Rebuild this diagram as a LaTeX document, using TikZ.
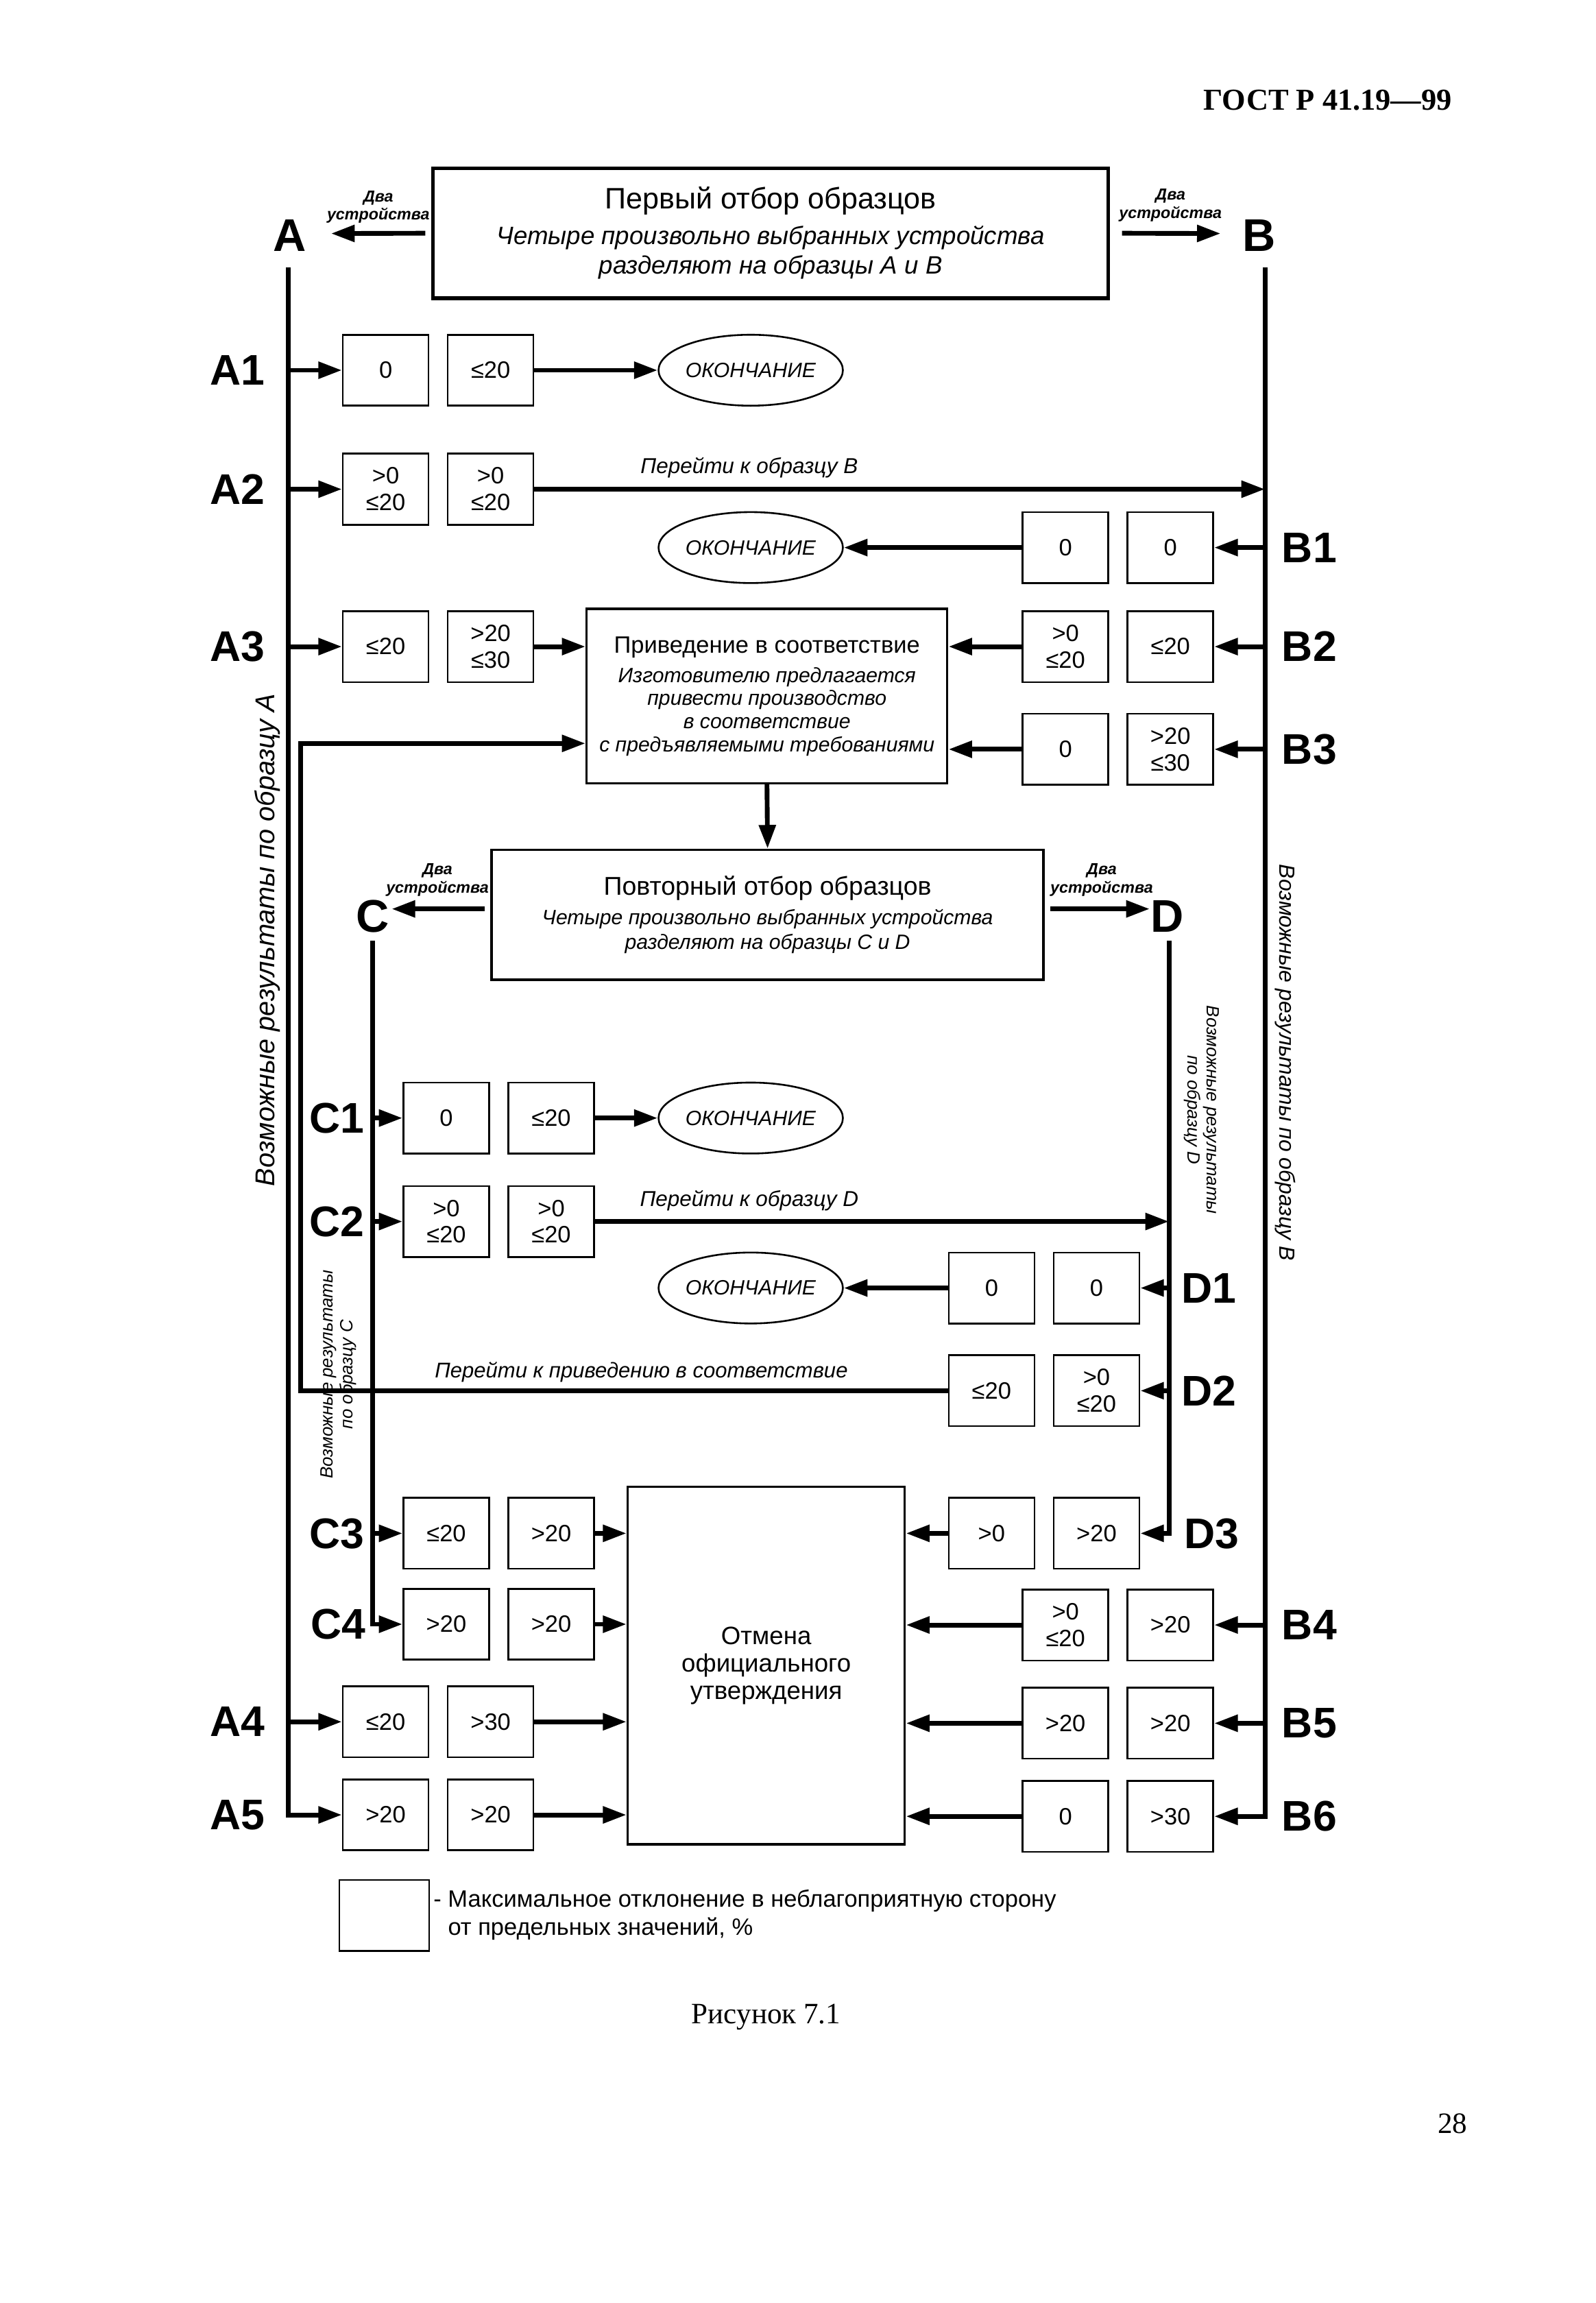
\documentclass[tikz,border=0pt]{standalone}
\usepackage{fontspec}
\setmainfont{Liberation Sans}
\newfontfamily\gostserif{Liberation Serif}
\usetikzlibrary{arrows.meta,shapes.geometric}

\tikzset{
  val/.style={draw, line width=0.6pt, minimum width=29pt, minimum height=24pt, inner sep=0pt, align=center, font=\fontsize{8}{9}\selectfont},
  finish/.style={draw, ellipse, line width=0.6pt, minimum width=54pt, minimum height=24pt, inner sep=0pt, font=\fontsize{7}{8}\selectfont\itshape},
  stagebox/.style={draw, line width=0.8pt, inner sep=0pt, align=center},
  rowlabel/.style={inner sep=0pt, font=\fontsize{14.5}{15}\selectfont\bfseries},
  twodev/.style={inner sep=0pt, align=center, font=\fontsize{5.4}{6.2}\selectfont\bfseries\itshape},
  goto/.style={inner sep=0pt, font=\fontsize{7.3}{8}\selectfont\itshape},
  result/.style={inner sep=0pt, align=center, font=\fontsize{6}{6.6}\selectfont\itshape},
  rail/.style={line width=1.6pt},
  flow/.style={line width=1.6pt, -{Triangle[length=8pt,width=5.5pt]}},
}

\begin{document}
\begin{tikzpicture}[x=0.5pt,y=-0.5pt]
  \useasboundingbox (0,0) rectangle (1080,1558.3);

  % page head
  \node[font=\gostserif\fontsize{10.3}{12}\selectfont\bfseries] (head) at (898.5,68) {ГОСТ Р 41.19—99};

  % first sampling
  \node[stagebox, line width=1.2pt, minimum width=228.5pt, minimum height=44pt, font=\fontsize{8.5}{10}\selectfont\itshape] (first) at (521.5,157.8)
    {{\fontsize{10}{12}\selectfont\upshape Первый отбор образцов}\\[2pt]
     Четыре произвольно выбранных устройства\\разделяют на образцы A и B};
  \node[twodev] (devA) at (256,140) {Два\\устройства};
  \node[twodev] (devB) at (792,139) {Два\\устройства};
  \node[rowlabel, font=\fontsize{15.5}{16}\selectfont\bfseries] (lettA) at (196,159.5) {A};
  \node[rowlabel, font=\fontsize{15.5}{16}\selectfont\bfseries] (lettB) at (852,159.5) {B};
  \coordinate (adev) at (224,158);
  \coordinate (bdev) at (826,158);
  \draw[flow] ([xshift=-2pt]first.west) -- (adev);
  \draw[flow] ([xshift=4pt]first.east) -- (bdev);

  % conformity and repeated sampling
  \node[stagebox, minimum width=122pt, minimum height=59pt, font=\fontsize{7}{7.8}\selectfont\itshape] (conform) at (519,471)
    {{\fontsize{8}{9}\selectfont\upshape Приведение в соответствие}\\[2.2pt]
     Изготовителю предлагается\\привести производство\\в соответствие\\с предъявляемыми требованиями};
  \node[stagebox, minimum width=186.7pt, minimum height=44pt, font=\fontsize{7}{8.5}\selectfont\itshape] (second) at (519.4,619)
    {{\fontsize{8.7}{10}\selectfont\upshape Повторный отбор образцов}\\[1.5pt]
     Четыре произвольно выбранных устройства\\разделяют на образцы C и D};
  \node[stagebox, minimum width=93.75pt, minimum height=121pt, font=\fontsize{8.5}{9.3}\selectfont] (cancel) at (518.5,1127)
    {Отмена\\официального\\утверждения};
  \draw[flow] (conform.south) -- (second.north);

  \node[twodev] (devC) at (296,595.5) {Два\\устройства};
  \node[twodev] (devD) at (745.5,595.5) {Два\\устройства};
  \node[rowlabel, font=\fontsize{15.5}{16}\selectfont\bfseries] (lettC) at (252,620) {C};
  \node[rowlabel, font=\fontsize{15.5}{16}\selectfont\bfseries] (lettD) at (790,620) {D};
  \coordinate (cdev) at (265,615);
  \coordinate (ddev) at (778,615);
  \draw[flow] ([xshift=-2pt,yshift=2pt]second.west) -- (cdev);
  \draw[flow] ([xshift=2pt,yshift=2pt]second.east) -- (ddev);

  % end ellipses
  \node[finish] (end1) at (508,250.5) {ОКОНЧАНИЕ};
  \node[finish] (end2) at (508,370.5) {ОКОНЧАНИЕ};
  \node[finish] (end3) at (508,756.5) {ОКОНЧАНИЕ};
  \node[finish] (end4) at (508,871.5) {ОКОНЧАНИЕ};

  % result boxes
  \foreach \n/\x/\y/\p/\q in {
      a1/261/250.5/0/≤20, a2/261/331/{>0\\≤20}/{>0\\≤20}, b1/721/370.5/0/0,
      a3/261/437.5/≤20/{>20\\≤30}, b2/721/437.5/{>0\\≤20}/≤20, b3/721/507/0/{>20\\≤30},
      c1/302/756.5/0/≤20, c2/302/826.5/{>0\\≤20}/{>0\\≤20}, d1/671/871.5/0/0,
      d2/671/941/≤20/{>0\\≤20}, c3/302/1037.5/≤20/>20, d3/671/1037.5/>0/>20,
      c4/302/1099/>20/>20, b4/721/1099.5/{>0\\≤20}/>20, a4/261/1165/≤20/>30,
      b5/721/1166/>20/>20, a5/261/1228/>20/>20, b6/721/1229/0/>30}{
    \node[val] (\n-l) at (\x,\y) {\p};
    \node[val] (\n-r) at (\x+71,\y) {\q};
  }

  % row labels
  \foreach \t/\x/\y in {A1/160.5/250.5, A2/160.5/331, A3/160.5/437.5, A4/160.5/1165, A5/160.5/1228,
      B1/886/370.5, B2/886/437.5, B3/886/507, B4/886/1099.5, B5/886/1166, B6/886/1229,
      C1/228/756.5, C2/228/826.5, C3/228/1038, C4/229/1099,
      D1/818/871.5, D2/818/941, D3/820/1038}
    \node[rowlabel] (lbl\t) at (\x,\y) {\t};

  % rails
  \coordinate (atop) at (195,181);
  \coordinate (btop) at (856,181);
  \coordinate (ctop) at (252,636.5);
  \coordinate (dtop) at (791,636.5);
  \draw[flow] (atop) |- (a5-l.west);
  \draw[flow] (btop) |- (b6-r.east);
  \draw[flow] (ctop) |- (c4-l.west);
  \draw[flow] (dtop) |- (d3-r.east);

  \foreach \n in {a1,a2,a3,a4}
    \draw[flow] (\n-l.west -| atop) -- (\n-l.west);
  \foreach \n in {b1,b2,b3,b4,b5}
    \draw[flow] (\n-r.east -| btop) -- (\n-r.east);
  \foreach \n in {c1,c2,c3}
    \draw[flow] (\n-l.west -| ctop) -- (\n-l.west);
  \foreach \n in {d1,d2}
    \draw[flow] (\n-r.east -| dtop) -- (\n-r.east);

  % outcomes
  \draw[flow] (a1-r) -- (end1);
  \draw[flow] (b1-l) -- (end2);
  \draw[flow] (c1-r) -- (end3);
  \draw[flow] (d1-l) -- (end4);
  \draw[flow] (a2-r.east) -- (a2-r.east -| btop);
  \node[goto] (gotoB) at (507,316.5) {Перейти к образцу B};
  \draw[flow] (c2-r.east) -- (c2-r.east -| dtop);
  \node[goto] (gotoD) at (507,812.5) {Перейти к образцу D};

  \draw[flow] (a3-r.east) -- (a3-r.east -| conform.west);
  \draw[flow] (b2-l.west) -- (b2-l.west -| conform.east);
  \draw[flow] (b3-l.west) -- (b3-l.west -| conform.east);
  \coordinate (retbot) at (203.5,940.5);
  \draw[flow] (d2-l.west) -- (d2-l.west -| retbot) |- ([yshift=-16pt]conform.west);
  \node[goto, font=\fontsize{7.2}{8}\selectfont\itshape] (gotoconf) at (434,928.5) {Перейти к приведению в соответствие};

  \foreach \n in {c3,c4,a4,a5}
    \draw[flow] (\n-r.east) -- (\n-r.east -| cancel.west);
  \foreach \n in {d3,b4,b5,b6}
    \draw[flow] (\n-l.west) -- (\n-l.west -| cancel.east);

  % rail captions
  \node[result, rotate=90, font=\fontsize{9.2}{10}\selectfont\itshape] (resA) at (181,636) {Возможные результаты по образцу A};
  \node[result, rotate=-90, font=\fontsize{7.4}{8}\selectfont\itshape] (resB) at (870,719) {Возможные результаты по образцу B};
  \node[result, rotate=90] (resC) at (229,930) {Возможные результаты\\по образцу C};
  \node[result, rotate=-90] (resD) at (813,751) {Возможные результаты\\по образцу D};

  % legend
  \node[val, minimum width=30.4pt] (legbox) at (260,1296) {};
  \node[anchor=west, align=left, inner sep=0pt, font=\fontsize{8}{9.5}\selectfont] (legtext) at (293,1295.5)
    {- Максимальное отклонение в неблагоприятную сторону\\\phantom{- }от предельных значений, \%};

  \node[font=\gostserif\fontsize{10}{12}\selectfont] (caption) at (518.5,1365) {Рисунок 7.1};
  \node[font=\gostserif\fontsize{10}{12}\selectfont] (pagenum) at (983,1437) {28};
\end{tikzpicture}
\end{document}
